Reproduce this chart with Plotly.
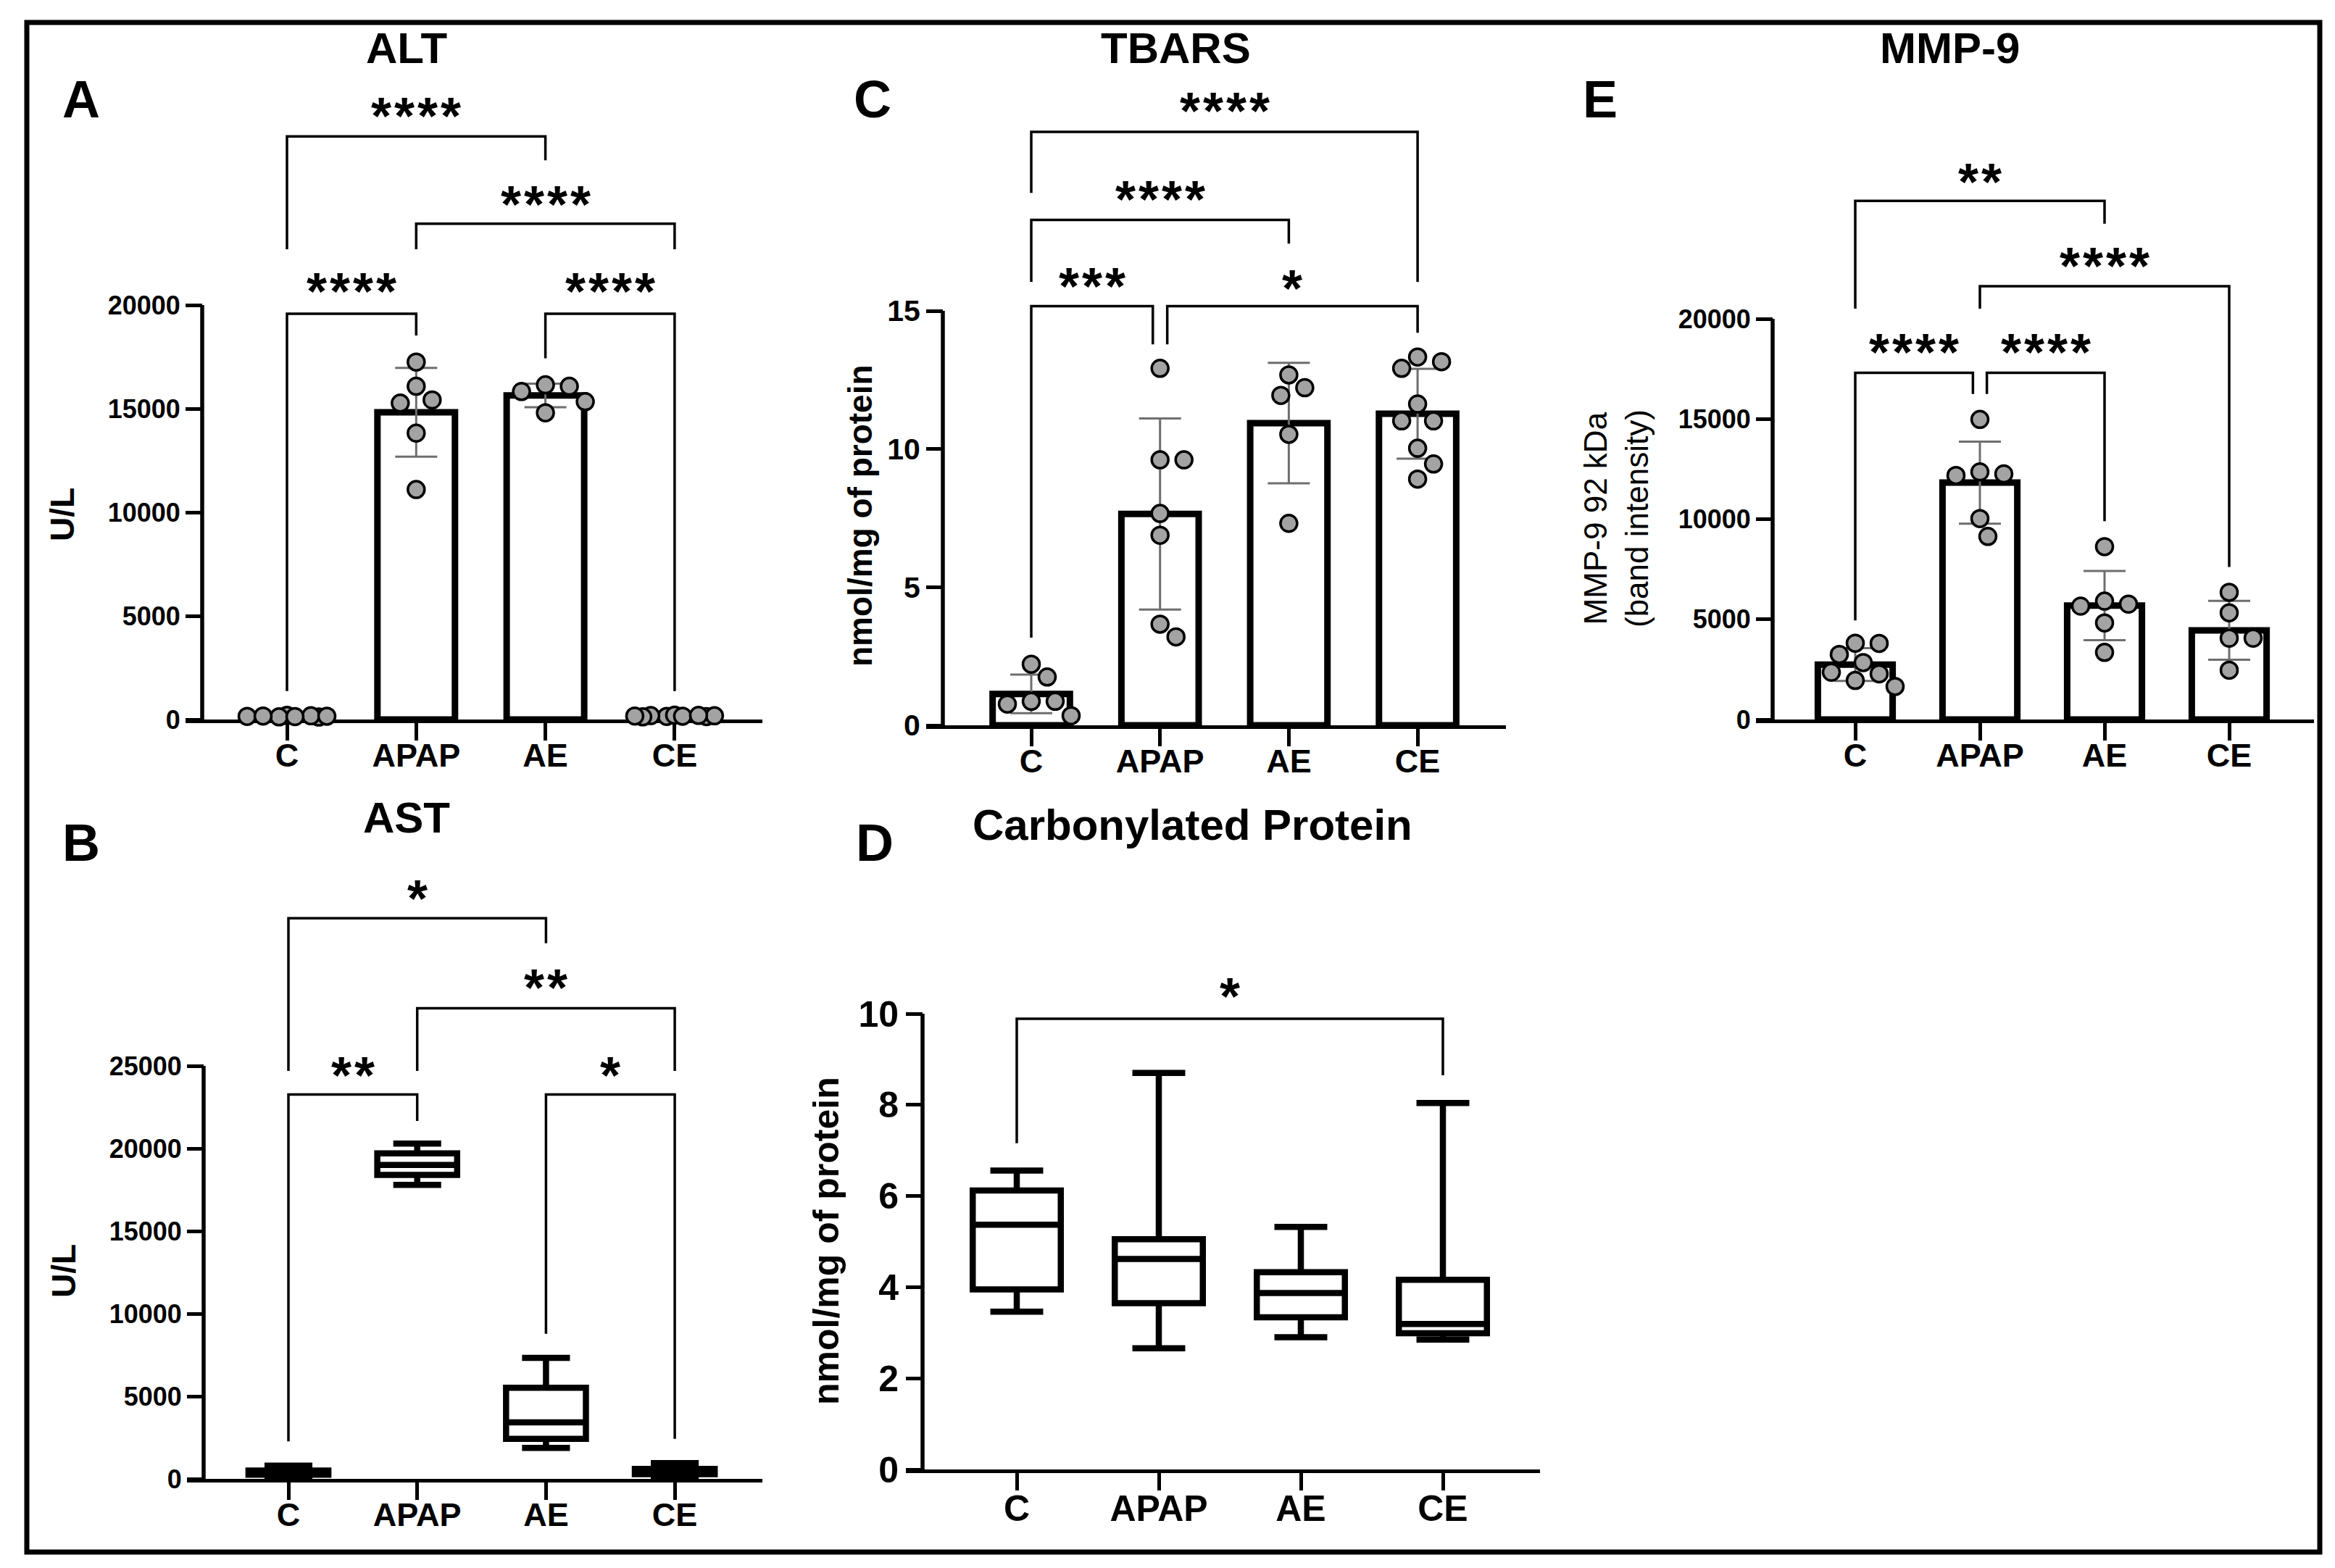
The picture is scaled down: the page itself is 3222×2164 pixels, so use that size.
import numpy as np
import plotly.graph_objects as go

W, H = 3222, 2164
FONT = "Liberation Sans, Arial, Helvetica, sans-serif"

groups = ["C", "APAP", "AE", "CE"]

# ---------------- data ----------------
# A  ALT (U/L), individual animals
alt_C = [150, 120, 180, 200, 130, 170, 160, 140]
alt_APAP = [17250, 16080, 15420, 15270, 13820, 11100]
alt_AE = [15830, 16150, 14800, 15340, 16080]
alt_CE = [150, 190, 130, 170, 210, 160, 140, 180, 200]

# B  AST (U/L), box summaries
ast_min = [150, 17800, 1880, 150]
ast_q1 = [250, 18400, 2420, 280]
ast_median = [330, 19000, 3420, 400]
ast_q3 = [500, 19700, 5520, 600]
ast_max = [800, 20300, 7330, 950]

# C  TBARS (nmol/mg of protein)
tbars_C = [0.35, 1.75, 2.21, 0.87, 0.77, 0.87]
tbars_APAP = [12.92, 9.61, 9.61, 7.67, 6.88, 3.66, 3.20]
tbars_AE = [12.68, 11.94, 12.22, 10.53, 7.31]
tbars_CE = [13.33, 12.92, 13.16, 11.63, 11.02, 11.02, 10.03, 9.46, 8.91]

# D  Carbonylated protein (nmol/mg of protein), box summaries
carb_min = [3.46, 2.66, 2.90, 2.85]
carb_q1 = [3.95, 3.65, 3.34, 2.99]
carb_median = [5.37, 4.62, 3.87, 3.19]
carb_q3 = [6.12, 5.05, 4.33, 4.16]
carb_max = [6.56, 8.70, 5.32, 8.04]

# E  MMP-9 92 kDa (band intensity)
mmp_C = [3810, 2840, 2360, 3250, 3800, 2280, 1950, 1650]
mmp_APAP = [14980, 12260, 12360, 12180, 10030, 9140]
mmp_AE = [8630, 5910, 5760, 5660, 4820, 3350]
mmp_CE = [6350, 5330, 4060, 4060, 2460]

# significance brackets: (group i, group j, label, bar level, leg-i end, leg-j end, label level, di, dj)
alt_sig = [(0, 1, "****", 19583, 1373, 18529, 20858, 0, 0),
           (2, 3, "****", 19583, 17426, 1373, 20858, 0, 0),
           (1, 3, "****", 23922, 22696, 22696, 25074, 0, 0),
           (0, 2, "****", 28137, 22696, 26985, 29314, 0, 0)]
ast_sig = [(0, 1, "**", 23273, 2273, 21667, 24697, 0, 0),
           (2, 3, "*", 23273, 8788, 2424, 24697, 0, 0),
           (1, 3, "**", 28485, 24697, 24697, 30000, 0, 0),
           (0, 2, "*", 33939, 24697, 32424, 35394, 0, 0)]
tbars_sig = [(0, 1, "***", 15.17, 3.17, 13.79, 16.05, 0, -0.056),
             (1, 3, "*", 15.17, 13.79, 14.21, 15.96, 0.056, 0),
             (0, 2, "****", 18.29, 16.05, 17.43, 19.18, 0, 0),
             (0, 3, "****", 21.48, 19.27, 16.05, 22.40, 0, 0)]
carb_sig = [(0, 3, "*", 9.89, 7.16, 8.65, 10.48, 0, 0)]
mmp_sig = [(0, 1, "****", 17310, 4949, 16244, 18528, 0, -0.056),
           (1, 2, "****", 17310, 16244, 9898, 18528, 0.056, 0),
           (1, 3, "****", 21624, 20508, 7614, 22843, 0, 0),
           (0, 2, "**", 25888, 20508, 24746, 27030, 0, 0)]

# ---------------- panel geometry (pixels) ----------------
panels = {
    "A": dict(k=1, L=279, R=1052, c0=396, s=178.3, B=993, top_val=20000, top_px=421, T=130,
              dtick=5000, yts=36, xts=45),
    "B": dict(k=2, L=281, R=1052, c0=398, s=177.7, B=2041, top_val=25000, top_px=1471, T=1200,
              dtick=5000, yts=36, xts=45),
    "C": dict(k=3, L=1301, R=2078, c0=1423, s=177.7, B=1001, top_val=15, top_px=429, T=130,
              dtick=5, yts=41, xts=45),
    "D": dict(k=4, L=1273, R=2125, c0=1403, s=196.0, B=2028, top_val=10, top_px=1399, T=1350,
              dtick=2, yts=50, xts=50),
    "E": dict(k=5, L=2446, R=3193, c0=2560, s=172.0, B=993, top_val=20000, top_px=440, T=220,
              dtick=5000, yts=36, xts=45),
}

TL = 23
fig = go.Figure()
shapes, annotations = [], []
lay = {}


def ids(k):
    return ("x" if k == 1 else f"x{k}"), ("y" if k == 1 else f"y{k}")


def setup_axes(g):
    k = g["k"]
    xr, yr = ids(k)
    ymax = g["top_val"] * (g["B"] - g["T"]) / (g["B"] - g["top_px"])
    xkey = "xaxis" if k == 1 else f"xaxis{k}"
    ykey = "yaxis" if k == 1 else f"yaxis{k}"
    lay[xkey] = dict(domain=[(g["L"] - TL) / W, g["R"] / W],
                     range=[(g["L"] - TL - g["c0"]) / g["s"], (g["R"] - g["c0"]) / g["s"]],
                     anchor=yr, showline=True, linecolor="black", linewidth=5,
                     ticks="outside", ticklen=24, tickwidth=5, tickcolor="black",
                     tickvals=list(range(len(groups))), ticktext=groups,
                     ticklabelstandoff=-18, automargin=False,
                     tickfont=dict(family=FONT, size=g["xts"], color="black", weight="bold"),
                     showgrid=False, zeroline=False, layer="below traces", fixedrange=True)
    lay[ykey] = dict(domain=[1 - g["B"] / H, 1 - g["T"] / H], range=[0, ymax],
                     anchor="free", position=g["L"] / W, showline=False, automargin=False,
                     ticks="outside", ticklen=TL, tickwidth=5, tickcolor="black",
                     tickvals=list(np.arange(0, g["top_val"] + g["dtick"] * 0.5, g["dtick"])),
                     tickformat="d",
                     tickfont=dict(family=FONT, size=g["yts"], color="black", weight="bold"),
                     showgrid=False, zeroline=False, layer="below traces", fixedrange=True)
    # y-axis line only up to the top tick
    shapes.append(dict(type="line", xref="paper", yref=yr, x0=g["L"] / W, x1=g["L"] / W,
                       y0=0, y1=g["top_val"], line=dict(color="black", width=5.5)))
    g["ppu"] = (g["B"] - g["top_px"]) / g["top_val"]
    return xr, yr


def swarm_offsets(vals, ppu, s, dia=26.0, step=11.0):
    maxw = 0.35 * s
    cands = [0.0]
    kk = 1
    while kk * step <= maxw + 1e-9:
        cands += [kk * step, -kk * step]
        kk += 1
    offs = [0.0] * len(vals)
    placed = []
    for i in sorted(range(len(vals)), key=lambda t: -vals[t]):
        y = vals[i] * ppu
        best, bestd = 0.0, -1.0
        for c in cands:
            d = min((np.hypot(c - px, y - py) for px, py in placed), default=np.inf)
            if d >= dia:
                best = c
                break
            if d > bestd:
                best, bestd = c, d
        placed.append((best, y))
        offs[i] = best / s
    return offs


def bar_panel(g, series):
    xr, yr = setup_axes(g)
    means = [float(np.mean(v)) for v in series]
    sds = [float(np.std(v, ddof=1)) for v in series]
    fig.add_trace(go.Bar(x=list(range(len(groups))), y=means, width=0.6, xaxis=xr, yaxis=yr,
                         marker=dict(color="white", line=dict(color="black", width=9)),
                         error_y=dict(type="data", array=sds, visible=True, color="#6e6e6e",
                                      thickness=3, width=29),
                         showlegend=False, hoverinfo="skip"))
    xs, ys = [], []
    for gi, v in enumerate(series):
        offs = swarm_offsets(v, g["ppu"], g["s"])
        xs += [gi + o for o in offs]
        ys += list(v)
    fig.add_trace(go.Scatter(x=xs, y=ys, mode="markers", xaxis=xr, yaxis=yr, cliponaxis=False,
                             marker=dict(size=23, color="#a3a3a3",
                                         line=dict(color="black", width=3.5)),
                             showlegend=False, hoverinfo="skip"))
    return xr, yr


def box_panel(g, lo, q1, med, q3, hi):
    xr, yr = setup_axes(g)
    fig.add_trace(go.Box(x=list(range(len(groups))), q1=q1, median=med, q3=q3,
                         lowerfence=lo, upperfence=hi, xaxis=xr, yaxis=yr,
                         width=0.62, whiskerwidth=0.6, boxpoints=False,
                         fillcolor="white", line=dict(color="black", width=8.5),
                         showlegend=False, hoverinfo="skip"))
    return xr, yr


STAR_SIZE = 72
STAR_GAP = 32  # px between star centres


def add_brackets(xr, yr, sig):
    for (i, j, lab, bar, li, lj, ly, di, dj) in sig:
        xi, xj = i + di, j + dj
        shapes.append(dict(type="path", xref=xr, yref=yr,
                           path=f"M {xi},{li} L {xi},{bar} L {xj},{bar} L {xj},{lj}",
                           line=dict(color="black", width=3.5)))
        n = len(lab)
        for m in range(n):
            annotations.append(dict(x=(xi + xj) / 2, y=ly, xref=xr, yref=yr, text="*",
                                    showarrow=False, xanchor="center", yanchor="middle",
                                    xshift=(m - (n - 1) / 2) * STAR_GAP,
                                    yshift=-0.08 * STAR_SIZE,
                                    font=dict(family=FONT, size=STAR_SIZE, color="black",
                                              weight="bold")))


xr, yr = bar_panel(panels["A"], [alt_C, alt_APAP, alt_AE, alt_CE])
add_brackets(xr, yr, alt_sig)
xr, yr = box_panel(panels["B"], ast_min, ast_q1, ast_median, ast_q3, ast_max)
add_brackets(xr, yr, ast_sig)
xr, yr = bar_panel(panels["C"], [tbars_C, tbars_APAP, tbars_AE, tbars_CE])
add_brackets(xr, yr, tbars_sig)
xr, yr = box_panel(panels["D"], carb_min, carb_q1, carb_median, carb_q3, carb_max)
add_brackets(xr, yr, carb_sig)
xr, yr = bar_panel(panels["E"], [mmp_C, mmp_APAP, mmp_AE, mmp_CE])
add_brackets(xr, yr, mmp_sig)


def text(x, y, s, size, bold=True, angle=0):
    annotations.append(dict(x=x / W, y=1 - y / H, xref="paper", yref="paper", text=s,
                            showarrow=False, xanchor="center", yanchor="middle", textangle=angle,
                            font=dict(family=FONT, size=size, color="black",
                                      weight="bold" if bold else "normal")))


# titles
text(561, 66, "ALT", 60)
text(1622, 66, "TBARS", 60)
text(2690, 66, "MMP-9", 60)
text(561, 1128, "AST", 60)
text(1646, 1138, "Carbonylated Protein", 60)
# panel letters
text(112, 137, "A", 72)
text(1204, 137, "C", 72)
text(2208, 137, "E", 72)
text(112, 1163, "B", 72)
text(1207, 1163, "D", 72)
# axis titles
text(86, 710, "U/L", 46, angle=-90)
text(88, 1754, "U/L", 46, angle=-90)
text(1187, 712, "nmol/mg of protein", 46, angle=-90)
text(1140, 1713, "nmol/mg of protein", 50, angle=-90)
text(2230, 716, "MMP-9 92 kDa<br>(band intensity)", 44, bold=False, angle=-90)

# outer frame
shapes.append(dict(type="rect", xref="paper", yref="paper", x0=37 / W, x1=3201 / W,
                   y0=1 - 2142 / H, y1=1 - 31 / H, line=dict(color="black", width=7)))

fig.update_layout(width=W, height=H,
                  margin=dict(l=0, r=0, t=0, b=0, pad=0, autoexpand=False),
                  paper_bgcolor="white", plot_bgcolor="rgba(0,0,0,0)", showlegend=False,
                  shapes=shapes, annotations=annotations, bargap=0.4,
                  font=dict(family=FONT, color="black"), **lay)

fig.write_html("out.html", config={"displayModeBar": False, "staticPlot": True},
               post_script="document.body.style.margin='0px';")
